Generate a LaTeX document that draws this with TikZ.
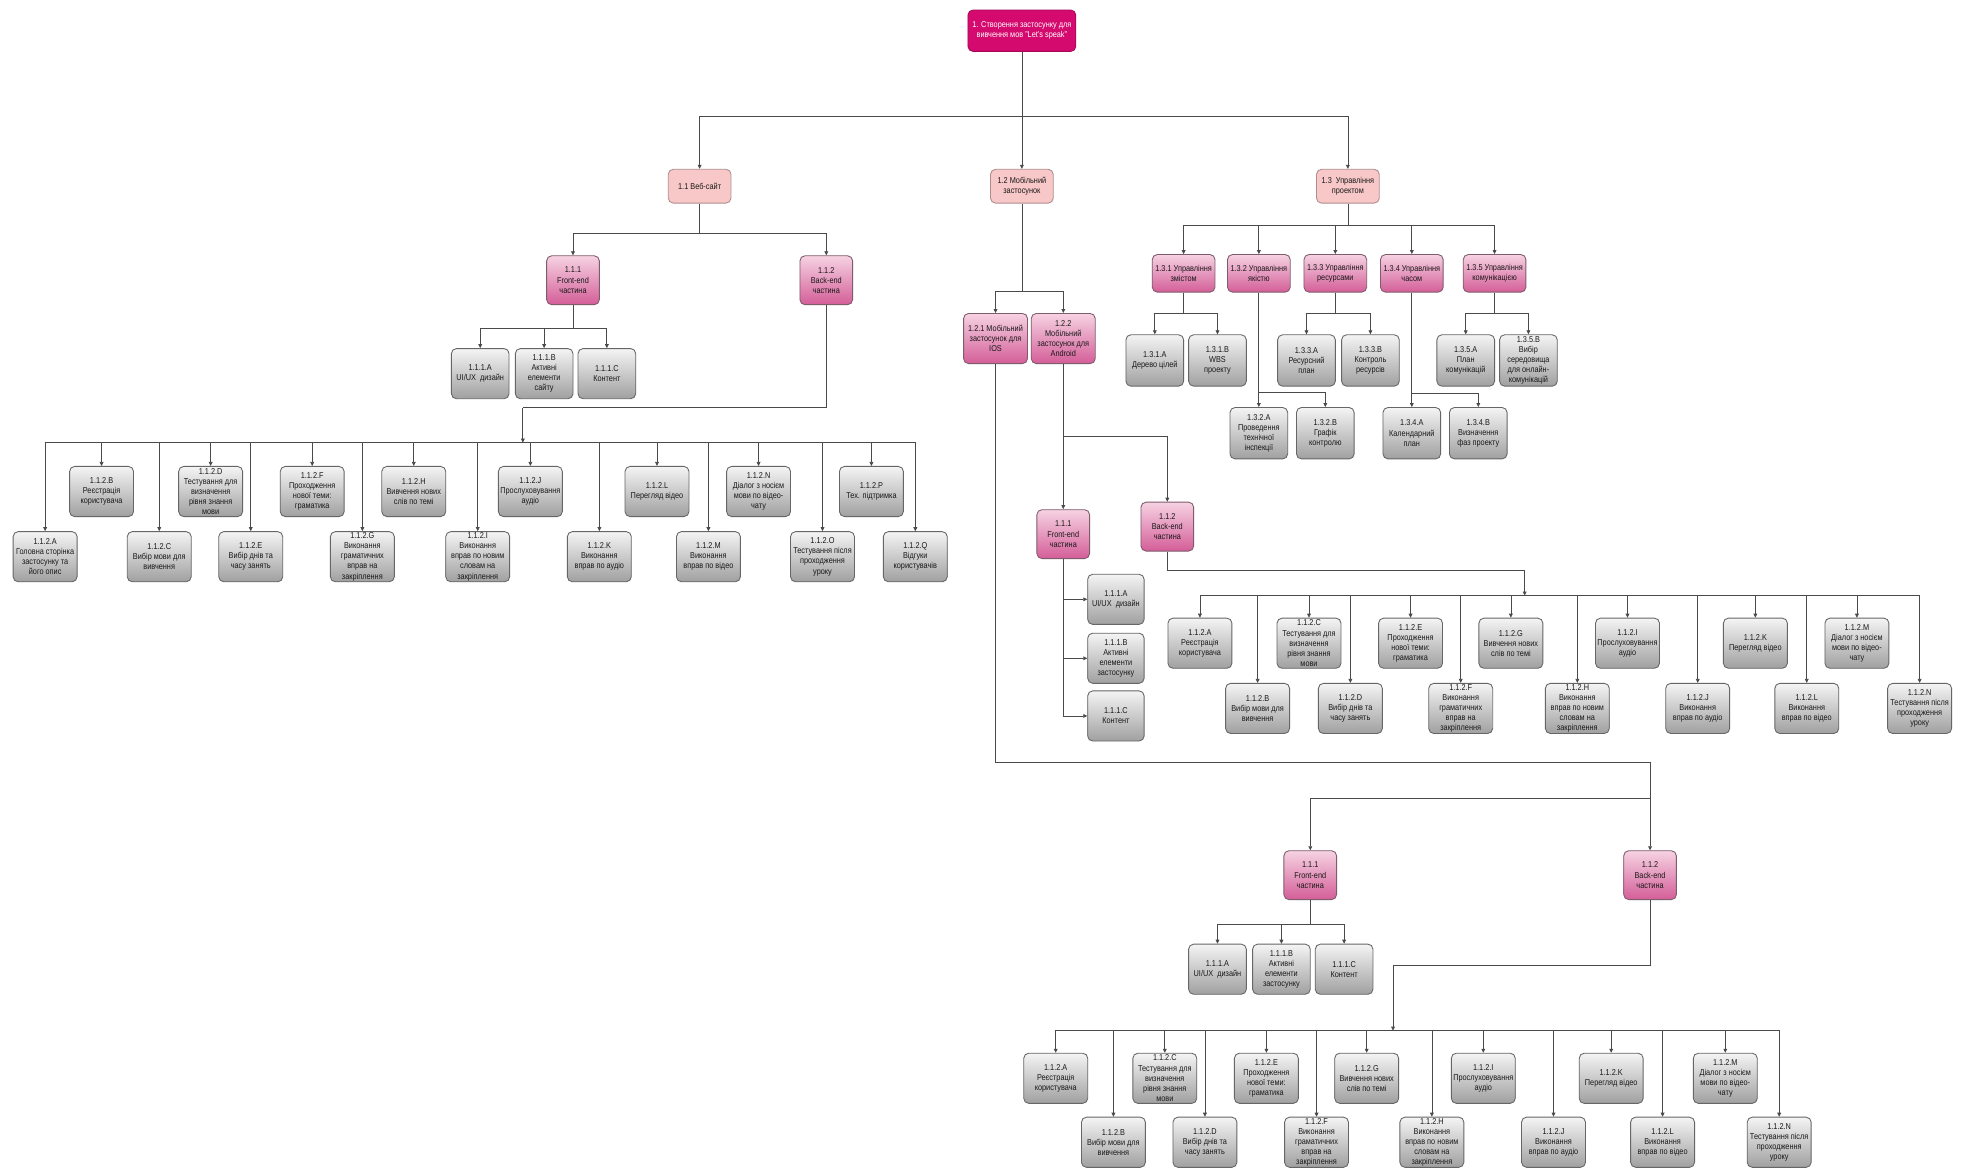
\documentclass[tikz,border=0pt]{standalone}
\usepackage{fontspec}
\setmainfont{Liberation Sans}[FakeStretch=0.86]
\usetikzlibrary{arrows.meta}

\definecolor{linec}{HTML}{4A4A4A}
\definecolor{rootc}{HTML}{D40A6E}
\definecolor{rootedge}{HTML}{A8085A}
\definecolor{onefill}{HTML}{F8C8C8}
\definecolor{oneedge}{HTML}{B08C8C}
\definecolor{midtop}{HTML}{F6D2E2}
\definecolor{midbot}{HTML}{D45E98}
\definecolor{midedge}{HTML}{7E5C6C}
\definecolor{leaftop}{HTML}{F4F4F4}
\definecolor{leafbot}{HTML}{A0A0A0}
\definecolor{leafedge}{HTML}{666666}

\tikzset{
  box/.style={rounded corners=4pt, align=center, inner sep=0.5pt, line width=0.7pt, text=black!90},
  rootbox/.style={box, fill=rootc, draw=rootedge, text=white, minimum width=86pt, minimum height=33pt},
  onebox/.style={box, fill=onefill, draw=oneedge, minimum width=50pt, minimum height=27pt},
  midbox/.style={box, draw=midedge, top color=midtop, bottom color=midbot, minimum width=42pt, minimum height=39pt},
  mgbox/.style={midbox, minimum width=50pt, minimum height=30pt},
  mobbox/.style={midbox, minimum width=51pt, minimum height=40pt},
  leaf/.style={box, draw=leafedge, top color=leaftop, bottom color=leafbot, minimum width=51pt, minimum height=40pt},
  sleaf/.style={leaf, minimum width=46pt, minimum height=40pt},
  ln/.style={draw=linec, line width=0.6pt},
  arr/.style={ln, -{Triangle[length=3.2pt,width=3pt]}},
}

\begin{document}
\begin{tikzpicture}[x=1pt, y=-1pt, font=\fontsize{6.8}{8.1}\selectfont]
\useasboundingbox[fill=white] (0,0) rectangle (1568,935);

% ---------- root and first level ----------
\node[rootbox] (r) at (815,24.5) {1. Створення застосунку для\\вивчення мов "Let's speak"};
\node[onebox] (w) at (558,148.5) {1.1 Веб-сайт};
\node[onebox] (m) at (815,148.5) {1.2 Мобільний\\застосунок};
\node[onebox] (p) at (1075,148.5) {1.3\ \ Управління\\проектом};
\coordinate (rj) at (815,93);
\draw[ln] (r.south) -- (rj);
\draw[arr] (rj) -| (w.north);
\draw[arr] (rj) -- (m.north);
\draw[arr] (rj) -| (p.north);

% ---------- 1.1 web site ----------
\node[midbox] (wf) at (457,223.5) {1.1.1\\Front-end\\частина};
\node[midbox] (wb) at (659,223.5) {1.1.2\\Back-end\\частина};
\coordinate (wj) at (558,186);
\draw[ln] (w.south) -- (wj);
\draw[arr] (wj) -| (wf.north);
\draw[arr] (wj) -| (wb.north);

\node[sleaf] (wfa) at (383,298) {1.1.1.A\\UI/UX\ \ дизайн};
\node[sleaf] (wfb) at (434,298) {1.1.1.B\\Активні\\елементи\\сайту};
\node[sleaf] (wfc) at (484,298) {1.1.1.C\\Контент};
\coordinate (wfj) at (457,262);
\draw[ln] (wf.south) -- (wfj);
\foreach \c in {wfa,wfb,wfc} \draw[arr] (wfj) -| (\c.north);

\node[leaf] (wA) at (36,444) {1.1.2.A\\Головна сторінка\\застосунку та\\його опис};
\node[leaf] (wB) at (81,392) {1.1.2.B\\Реєстрація\\користувача};
\node[leaf] (wC) at (127,444) {1.1.2.C\\Вибір мови для\\вивчення};
\node[leaf] (wD) at (168,392) {1.1.2.D\\Тестування для\\визначення\\рівня знання\\мови};
\node[leaf] (wE) at (200,444) {1.1.2.E\\Вибір днів та\\часу занять};
\node[leaf] (wF) at (249,392) {1.1.2.F\\Проходження\\нової теми:\\граматика};
\node[leaf] (wG) at (289,444) {1.1.2.G\\Виконання\\граматичних\\вправ на\\закріплення};
\node[leaf] (wH) at (330,392) {1.1.2.H\\Вивчення нових\\слів по темі};
\node[leaf] (wI) at (381,444) {1.1.2.I\\Виконання\\вправ по новим\\словам на\\закріплення};
\node[leaf] (wJ) at (423,392) {1.1.2.J\\Прослуховування\\аудіо};
\node[leaf] (wK) at (478,444) {1.1.2.K\\Виконання\\вправ по аудіо};
\node[leaf] (wL) at (524,392) {1.1.2.L\\Перегляд відео};
\node[leaf] (wM) at (565,444) {1.1.2.M\\Виконання\\вправ по відео};
\node[leaf] (wN) at (605,392) {1.1.2.N\\Діалог з носієм\\мови по відео-\\чату};
\node[leaf] (wO) at (656,444) {1.1.2.O\\Тестування після\\проходження\\уроку};
\node[leaf] (wP) at (695,392) {1.1.2.P\\Тех. підтримка};
\node[leaf] (wQ) at (730,444) {1.1.2.Q\\Відгуки\\користувачів};
\coordinate (wbj) at (417,325);
\coordinate (wbus) at (417,353);
\draw[ln] (wb.south) |- (wbj);
\draw[arr] (wbj) -- (wbus);
\foreach \c in {wA,wB,wC,wD,wE,wF,wG,wH,wI,wJ,wK,wL,wM,wN,wO,wP,wQ}
  \draw[arr] (wbus) -| (\c.north);

% ---------- 1.2 mobile application ----------
\node[mobbox] (ios) at (794,270) {1.2.1 Мобільний\\застосунок для\\IOS};
\node[mobbox] (and) at (848,270) {1.2.2\\Мобільний\\застосунок для\\Android};
\coordinate (mj) at (815,232);
\draw[ln] (m.south) -- (mj);
\draw[arr] (mj) -| (ios.north);
\draw[arr] (mj) -| (and.north);

% Android branch
\node[midbox] (af) at (848,426) {1.1.1\\Front-end\\частина};
\node[midbox] (ab) at (931,420) {1.1.2\\Back-end\\частина};
\coordinate (aj) at (848,348);
\draw[ln] (and.south) -- (aj);
\draw[arr] (aj) -- (af.north);
\draw[arr] (aj) -| (ab.north);

\node[sleaf, minimum width=45pt] (afa) at (890,478) {1.1.1.A\\UI/UX\ \ дизайн};
\node[sleaf, minimum width=45pt] (afb) at (890,525) {1.1.1.B\\Активні\\елементи\\застосунку};
\node[sleaf, minimum width=45pt] (afc) at (890,571) {1.1.1.C\\Контент};
\foreach \c in {afa,afb,afc} \draw[arr] (af.south) |- (\c.west);

\node[leaf] (aA) at (957,513) {1.1.2.A\\Реєстрація\\користувача};
\node[leaf] (aB) at (1003,565) {1.1.2.B\\Вибір мови для\\вивчення};
\node[leaf] (aC) at (1044,513) {1.1.2.C\\Тестування для\\визначення\\рівня знання\\мови};
\node[leaf] (aD) at (1077,565) {1.1.2.D\\Вибір днів та\\часу занять};
\node[leaf] (aE) at (1125,513) {1.1.2.E\\Проходження\\нової теми:\\граматика};
\node[leaf] (aF) at (1165,565) {1.1.2.F\\Виконання\\граматичних\\вправ на\\закріплення};
\node[leaf] (aG) at (1205,513) {1.1.2.G\\Вивчення нових\\слів по темі};
\node[leaf] (aH) at (1258,565) {1.1.2.H\\Виконання\\вправ по новим\\словам на\\закріплення};
\node[leaf] (aI) at (1298,513) {1.1.2.I\\Прослуховування\\аудіо};
\node[leaf] (aJ) at (1354,565) {1.1.2.J\\Виконання\\вправ по аудіо};
\node[leaf] (aK) at (1400,513) {1.1.2.K\\Перегляд відео};
\node[leaf] (aL) at (1441,565) {1.1.2.L\\Виконання\\вправ по відео};
\node[leaf] (aM) at (1481,513) {1.1.2.M\\Діалог з носієм\\мови по відео-\\чату};
\node[leaf] (aN) at (1531,565) {1.1.2.N\\Тестування після\\проходження\\уроку};
\coordinate (abj) at (1216,455);
\coordinate (abus) at (1216,475);
\draw[ln] (ab.south) |- (abj);
\draw[arr] (abj) -- (abus);
\foreach \c in {aA,aB,aC,aD,aE,aF,aG,aH,aI,aJ,aK,aL,aM,aN}
  \draw[arr] (abus) -| (\c.north);

% iOS branch
\node[midbox] (if) at (1045,698) {1.1.1\\Front-end\\частина};
\node[midbox] (ib) at (1316,698) {1.1.2\\Back-end\\частина};
\coordinate (ij) at (1316,608);
\coordinate (ibus) at (1316,637);
\draw[ln] (ios.south) |- (ij);
\draw[arr] (ij) -- (ib.north);
\draw[arr] (ibus) -| (if.north);

\node[sleaf] (ifa) at (971,773) {1.1.1.A\\UI/UX\ \ дизайн};
\node[sleaf] (ifb) at (1022,773) {1.1.1.B\\Активні\\елементи\\застосунку};
\node[sleaf] (ifc) at (1072,773) {1.1.1.C\\Контент};
\coordinate (ifj) at (1045,737);
\draw[ln] (if.south) -- (ifj);
\foreach \c in {ifa,ifb,ifc} \draw[arr] (ifj) -| (\c.north);

\node[leaf] (iA) at (842,860) {1.1.2.A\\Реєстрація\\користувача};
\node[leaf] (iB) at (888,911) {1.1.2.B\\Вибір мови для\\вивчення};
\node[leaf] (iC) at (929,860) {1.1.2.C\\Тестування для\\визначення\\рівня знання\\мови};
\node[leaf] (iD) at (961,911) {1.1.2.D\\Вибір днів та\\часу занять};
\node[leaf] (iE) at (1010,860) {1.1.2.E\\Проходження\\нової теми:\\граматика};
\node[leaf] (iF) at (1050,911) {1.1.2.F\\Виконання\\граматичних\\вправ на\\закріплення};
\node[leaf] (iG) at (1090,860) {1.1.2.G\\Вивчення нових\\слів по темі};
\node[leaf] (iH) at (1142,911) {1.1.2.H\\Виконання\\вправ по новим\\словам на\\закріплення};
\node[leaf] (iI) at (1183,860) {1.1.2.I\\Прослуховування\\аудіо};
\node[leaf] (iJ) at (1239,911) {1.1.2.J\\Виконання\\вправ по аудіо};
\node[leaf] (iK) at (1285,860) {1.1.2.K\\Перегляд відео};
\node[leaf] (iL) at (1326,911) {1.1.2.L\\Виконання\\вправ по відео};
\node[leaf] (iM) at (1376,860) {1.1.2.M\\Діалог з носієм\\мови по відео-\\чату};
\node[leaf] (iN) at (1419,911) {1.1.2.N\\Тестування після\\проходження\\уроку};
\coordinate (ibj) at (1111,770);
\coordinate (ibus2) at (1111,822);
\draw[ln] (ib.south) |- (ibj);
\draw[arr] (ibj) -- (ibus2);
\foreach \c in {iA,iB,iC,iD,iE,iF,iG,iH,iI,iJ,iK,iL,iM,iN}
  \draw[arr] (ibus2) -| (\c.north);

% ---------- 1.3 project management ----------
\node[mgbox] (m1) at (944,218) {1.3.1 Управління\\змістом};
\node[mgbox] (m2) at (1004,218) {1.3.2 Управління\\якістю};
\node[mgbox] (m3) at (1065,218) {1.3.3 Управління\\ресурсами};
\node[mgbox] (m4) at (1126,218) {1.3.4 Управління\\часом};
\node[mgbox] (m5) at (1192,218) {1.3.5 Управління\\комунікацією};
\coordinate (pj) at (1075,180);
\draw[ln] (p.south) -- (pj);
\foreach \c in {m1,m2,m3,m4,m5} \draw[arr] (pj) -| (\c.north);

\node[sleaf, minimum height=41pt] (m1a) at (921,287.5) {1.3.1.A\\Дерево цілей};
\node[sleaf, minimum height=41pt] (m1b) at (971,287.5) {1.3.1.B\\WBS\\проекту};
\coordinate (m1j) at (944,250);
\draw[ln] (m1.south) -- (m1j);
\foreach \c in {m1a,m1b} \draw[arr] (m1j) -| (\c.north);

\node[sleaf, minimum height=41pt] (m2a) at (1004,345.5) {1.3.2.A\\Проведення\\технічної\\інспекції};
\node[sleaf, minimum height=41pt] (m2b) at (1057,345.5) {1.3.2.B\\Графік\\контролю};
\coordinate (m2j) at (1004,313);
\draw[ln] (m2.south) -- (m2j);
\foreach \c in {m2a,m2b} \draw[arr] (m2j) -| (\c.north);

\node[sleaf, minimum height=41pt] (m3a) at (1042,287.5) {1.3.3.A\\Ресурсний\\план};
\node[sleaf, minimum height=41pt] (m3b) at (1093,287.5) {1.3.3.B\\Контроль\\ресурсів};
\coordinate (m3j) at (1065,250);
\draw[ln] (m3.south) -- (m3j);
\foreach \c in {m3a,m3b} \draw[arr] (m3j) -| (\c.north);

\node[sleaf, minimum height=41pt] (m4a) at (1126,345.5) {1.3.4.A\\Календарний\\план};
\node[sleaf, minimum height=41pt] (m4b) at (1179,345.5) {1.3.4.B\\Визначення\\фаз проекту};
\coordinate (m4j) at (1126,314);
\draw[ln] (m4.south) -- (m4j);
\foreach \c in {m4a,m4b} \draw[arr] (m4j) -| (\c.north);

\node[sleaf, minimum height=41pt] (m5a) at (1169,287.5) {1.3.5.A\\План\\комунікацій};
\node[sleaf, minimum height=41pt] (m5b) at (1219,287.5) {1.3.5.B\\Вибір\\середовища\\для онлайн-\\комунікацій};
\coordinate (m5j) at (1192,250);
\draw[ln] (m5.south) -- (m5j);
\foreach \c in {m5a,m5b} \draw[arr] (m5j) -| (\c.north);

\end{tikzpicture}
\end{document}
